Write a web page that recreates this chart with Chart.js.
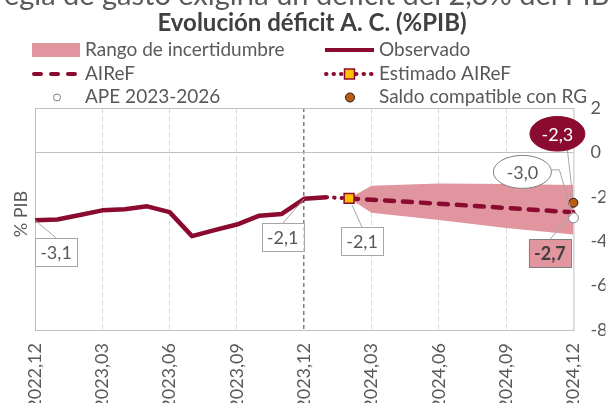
<!DOCTYPE html>
<html>
<head>
<meta charset="utf-8">
<script src="https://cdn.jsdelivr.net/npm/chart.js@4.4.1/dist/chart.umd.min.js"></script>
<style>
  html, body { margin: 0; padding: 0; background: #fff; }
  canvas { display: block; }
</style>
</head>
<body>
<canvas id="chart" width="608" height="403"></canvas>
<script>
const months = [
    '2022,12',
    '2023,01', '2023,02', '2023,03', '2023,04', '2023,05', '2023,06',
    '2023,07', '2023,08', '2023,09', '2023,10', '2023,11', '2023,12',
    '2024,01', '2024,02', '2024,03', '2024,04', '2024,05', '2024,06',
    '2024,07', '2024,08', '2024,09', '2024,10', '2024,11', '2024,12'
];
const _ = null;
const observed = [-3.06, -3.02, -2.82, -2.61, -2.56, -2.43, -2.69, -3.77, -3.5, -3.25, -2.85, -2.77, -2.09, -2.02,
    _, _, _, _, _, _, _, _, _, _, _];
const estimated = [_, _, _, _, _, _, _, _, _, _, _, _, _, -2.02, -2.07,
    _, _, _, _, _, _, _, _, _, _];
const airef = [_, _, _, _, _, _, _, _, _, _, _, _, _, _, -2.07, -2.13, _, _, -2.31, _, _, -2.5, _, _, -2.7];
const bandLow = [_, _, _, _, _, _, _, _, _, _, _, _, _, _, -2.07, -2.72, _, _, -3.05, _, _, -3.4, _, _, -3.7];
const bandHigh = [_, _, _, _, _, _, _, _, _, _, _, _, _, _, -2.07, -1.5, _, _, -1.4, _, _, -1.42, _, _, -1.47];
const ape = [_, _, _, _, _, _, _, _, _, _, _, _, _, _, _, _, _, _, _, _, _, _, _, _, -2.95];
const saldoRG = [_, _, _, _, _, _, _, _, _, _, _, _, _, _, _, _, _, _, _, _, _, _, _, _, -2.27];
const yTicks = [2, 0, -2, -4, -6, -8];

const titleText = 'Evolución déficit A. C. (%PIB)';
const topText = 'regla de gasto exigiría un déficit del 2,3% del PIB';
const yTitle = '% PIB';

const darkRed = '#8A0B2F';
const pink = '#E1959F';
const gray = '#595959';

// value callouts: which series/point, the text, and how it is drawn
const callouts = [
    { values: observed, index: 0, text: '-3,1', kind: 'box', dx: 21, dy: 31.5, r: 0 },
    { values: observed, index: 12, text: '-2,1', kind: 'box', dx: -21.5, dy: 38.5, r: 0 },
    { values: estimated, index: 14, text: '-2,1', kind: 'box', dx: 13, dy: 43, r: 7 },
    { values: airef, index: 24, text: '-2,7', kind: 'pinkBox', dx: -23.5, dy: 41, r: 0 },
    { values: ape, index: 24, text: '-3,0', kind: 'ellipse', dx: -51, dy: -46, r: 5 },
    { values: saldoRG, index: 24, text: '-2,3', kind: 'darkEllipse', dx: -16, dy: -69, r: 4.5 }
];

function line(ctx, x1, y1, x2, y2) {
    ctx.beginPath();
    ctx.moveTo(x1, y1);
    ctx.lineTo(x2, y2);
    ctx.stroke();
}

function shorten(x1, y1, x2, y2, r) {
    const len = Math.hypot(x2 - x1, y2 - y1);
    if (!r || !len) return [x2, y2];
    return [x2 - (x2 - x1) / len * r, y2 - (y2 - y1) / len * r];
}

const decor = {
    id: 'decor',
    beforeDatasetsDraw(chart) {
        const { ctx, chartArea: a } = chart;
        ctx.save();
        ctx.strokeStyle = '#BFBFBF';
        ctx.lineWidth = 1;
        ctx.strokeRect(a.left + 0.5, a.top + 0.5, a.right - a.left, a.bottom - a.top);
        ctx.restore();
    },
    afterDatasetsDraw(chart) {
        const { ctx } = chart;
        const xs = chart.scales.x;
        const ys = chart.scales.y;
        ctx.save();
        ctx.textAlign = 'center';
        ctx.textBaseline = 'middle';
        callouts.forEach(c => {
            const px = xs.getPixelForValue(c.index);
            const py = ys.getPixelForValue(c.values[c.index]);
            const cx = px + c.dx;
            const cy = py + c.dy;
            ctx.strokeStyle = '#A6A6A6';
            ctx.lineWidth = 1;
            if (c.kind === 'box' || c.kind === 'pinkBox') {
                const w = 42, h = 28;
                const [ex, ey] = shorten(cx, cy - h / 2, px, py, c.r);
                line(ctx, cx, cy - h / 2, ex, ey);
                ctx.fillStyle = c.kind === 'pinkBox' ? pink : '#fff';
                ctx.fillRect(cx - w / 2, cy - h / 2, w, h);
                ctx.strokeStyle = c.kind === 'pinkBox' ? '#7F7F7F' : '#A6A6A6';
                ctx.strokeRect(Math.round(cx - w / 2) + 0.5, Math.round(cy - h / 2) + 0.5, w, h);
                ctx.fillStyle = c.kind === 'pinkBox' ? '#3F3F3F' : gray;
                ctx.font = c.kind === 'pinkBox' ? 'bold 18px Lato' : '18px Lato';
                ctx.fillText(c.text, cx, cy + 1);
            } else {
                const rx = c.kind === 'ellipse' ? 29 : 27.5;
                const ry = c.kind === 'ellipse' ? 16.5 : 17.3;
                ctx.beginPath();
                if (c.kind === 'ellipse') {
                    ctx.moveTo(cx + rx, cy - 2);
                    ctx.lineTo(cx + rx + 8, cy - 2);
                    const [ex, ey] = shorten(cx + rx + 8, cy - 2, px, py, c.r);
                    ctx.lineTo(ex, ey);
                } else {
                    const sy = cy + ry * Math.sqrt(1 - (10 / rx) ** 2);
                    const [ex, ey] = shorten(cx + 10, sy, px, py, c.r);
                    ctx.moveTo(cx + 10, sy);
                    ctx.lineTo(ex, ey);
                }
                ctx.stroke();
                ctx.beginPath();
                ctx.ellipse(cx, cy, rx, ry, 0, 0, Math.PI * 2);
                ctx.fillStyle = c.kind === 'ellipse' ? '#fff' : darkRed;
                ctx.fill();
                ctx.strokeStyle = c.kind === 'ellipse' ? '#7F7F7F' : darkRed;
                ctx.stroke();
                ctx.fillStyle = c.kind === 'ellipse' ? gray : '#fff';
                ctx.font = '18px Lato';
                ctx.fillText(c.text, cx, cy + 1);
            }
        });
        ctx.restore();
    },
    afterDraw(chart) {
        const { ctx } = chart;
        ctx.save();
        // text cut off at the top of the picture
        ctx.font = '29px Lato';
        ctx.fillStyle = gray;
        ctx.textAlign = 'left';
        ctx.textBaseline = 'alphabetic';
        ctx.fillText(topText, -6, 5);

        ctx.font = 'bold 24px Lato';
        ctx.fillStyle = '#404040';
        ctx.textAlign = 'center';
        ctx.fillText(titleText, 312, 31);

        // legend
        ctx.textAlign = 'left';
        ctx.fillStyle = pink;
        ctx.fillRect(32, 43, 48, 14);
        ctx.strokeStyle = darkRed;
        ctx.lineWidth = 4;
        line(ctx, 325, 50, 374, 50);
        ctx.lineCap = 'round';
        ctx.setLineDash([7, 10]);
        line(ctx, 34, 74, 80, 74);
        ctx.setLineDash([0.5, 7]);
        line(ctx, 326, 74, 372, 74);
        ctx.setLineDash([]);
        ctx.lineCap = 'butt';
        ctx.fillStyle = '#FFC000';
        ctx.fillRect(344.5, 69, 10, 10);
        ctx.lineWidth = 1.5;
        ctx.strokeRect(344.5, 69, 10, 10);
        ctx.lineWidth = 1;
        ctx.beginPath();
        ctx.arc(57, 97.5, 3.5, 0, Math.PI * 2);
        ctx.fillStyle = '#fff';
        ctx.fill();
        ctx.strokeStyle = '#7F7F7F';
        ctx.stroke();
        ctx.beginPath();
        ctx.arc(350, 97.5, 4.5, 0, Math.PI * 2);
        ctx.fillStyle = '#BF5B0F';
        ctx.fill();
        ctx.strokeStyle = '#1A1A1A';
        ctx.stroke();

        ctx.font = '19px Lato';
        ctx.fillStyle = gray;
        ctx.fillText('Rango de incertidumbre', 85, 56);
        ctx.fillText('Observado', 379, 56);
        ctx.fillText('AIReF', 85, 80);
        ctx.fillText('Estimado AIReF', 379, 80);
        ctx.fillText('APE 2023-2026', 85, 103);
        ctx.fillText('Saldo compatible con RG', 379, 103);

        // left axis title
        ctx.font = '18px Lato';
        ctx.translate(21, 214);
        ctx.rotate(-Math.PI / 2);
        ctx.textAlign = 'center';
        ctx.textBaseline = 'middle';
        ctx.fillText(yTitle, 0, 0);
        ctx.restore();
    }
};

Chart.defaults.font.family = 'Lato';
Chart.defaults.color = gray;

new Chart(document.getElementById('chart'), {
    type: 'line',
    data: {
        labels: months,
        datasets: [
            {
                label: 'Saldo compatible con RG',
                data: saldoRG,
                showLine: false,
                pointRadius: 4.5,
                pointBackgroundColor: '#BF5B0F',
                pointBorderColor: '#1A1A1A',
                pointBorderWidth: 1,
                order: 0,
                clip: false
            },
            {
                label: 'APE 2023-2026',
                data: ape,
                showLine: false,
                pointRadius: 5,
                pointBackgroundColor: '#fff',
                pointBorderColor: '#7F7F7F',
                pointBorderWidth: 1,
                order: 1,
                clip: false
            },
            {
                label: 'Estimado AIReF',
                data: estimated,
                borderColor: darkRed,
                borderWidth: 4,
                borderDash: [0.5, 7],
                borderCapStyle: 'round',
                pointStyle: 'rect',
                pointRadius: ctx => ctx.dataIndex === 14 ? 7 : 0,
                pointBackgroundColor: '#FFC000',
                pointBorderColor: darkRed,
                pointBorderWidth: 1.5,
                order: 2,
                clip: false
            },
            {
                label: 'AIReF',
                data: airef,
                borderColor: darkRed,
                borderWidth: 4.5,
                borderDash: [9, 9],
                borderCapStyle: 'round',
                pointRadius: 0,
                spanGaps: true,
                order: 3
            },
            {
                label: 'Observado',
                data: observed,
                borderColor: darkRed,
                borderWidth: 4.5,
                borderJoinStyle: 'round',
                pointRadius: 0,
                order: 4
            },
            {
                label: 'Rango bajo',
                data: bandLow,
                borderWidth: 0,
                pointRadius: 0,
                spanGaps: true,
                fill: false,
                order: 6
            },
            {
                label: 'Rango de incertidumbre',
                data: bandHigh,
                borderWidth: 0,
                pointRadius: 0,
                spanGaps: true,
                fill: '-1',
                backgroundColor: pink,
                order: 5
            }
        ]
    },
    options: {
        responsive: false,
        animation: false,
        devicePixelRatio: 1,
        layout: { padding: { top: 108, left: 35, right: 0, bottom: 0 } },
        plugins: {
            legend: { display: false },
            tooltip: { enabled: false }
        },
        scales: {
            x: {
                type: 'category',
                offset: false,
                afterFit: scale => { scale.height = 73; },
                grid: {
                    drawTicks: false,
                    color: ctx => {
                        const i = ctx.index;
                        if (i === 0 || i === 24) return 'transparent';
                        if (i === 12) return '#7F7F7F';
                        return i % 3 === 0 ? '#D9D9D9' : 'transparent';
                    },
                    lineWidth: ctx => ctx.index === 12 ? 1.5 : 1
                },
                border: {
                    display: false,
                    dash: ctx => ctx.index === 12 ? [4, 3] : [5, 3]
                },
                ticks: {
                    autoSkip: false,
                    maxRotation: 90,
                    minRotation: 90,
                    padding: 13,
                    color: gray,
                    font: { size: 18 },
                    callback: function (value, index) {
                        return index % 3 === 0 ? this.getLabelForValue(value) : '';
                    }
                }
            },
            y: {
                position: 'right',
                min: -8,
                max: 2,
                afterFit: scale => { scale.width = 32; },
                afterBuildTicks: scale => { scale.ticks = yTicks.map(v => ({ value: v })); },
                grid: {
                    drawTicks: false,
                    color: ctx => ctx.tick && ctx.tick.value === 0 ? '#BFBFBF' : 'transparent'
                },
                border: { display: false },
                ticks: {
                    padding: 17,
                    crossAlign: 'near',
                    color: gray,
                    font: { size: 18 }
                }
            }
        }
    },
    plugins: [decor]
});
</script>
</body>
</html>
